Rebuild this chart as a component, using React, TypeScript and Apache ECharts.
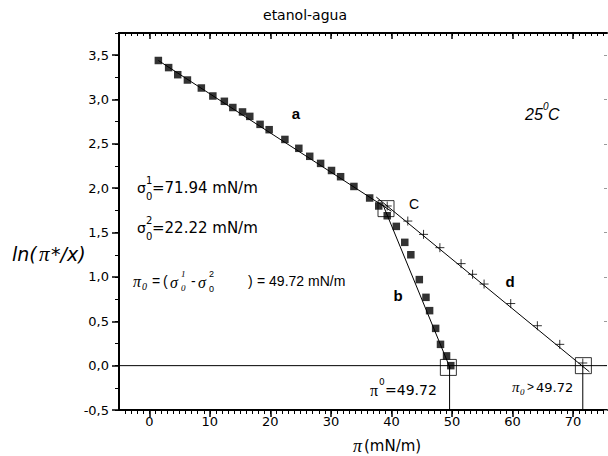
import React, { useEffect, useRef } from "react";
import * as echarts from "echarts";

// ---- data ----
const squaresA: number[][] = [
  [1.5, 3.44], [3.2, 3.36], [4.7, 3.28], [6.3, 3.22], [8.6, 3.13], [10.5, 3.04],
  [12.4, 2.98], [13.8, 2.91], [15.4, 2.86], [16.6, 2.81], [18.3, 2.72], [19.8, 2.66],
  [22.4, 2.55], [24.7, 2.45], [26.5, 2.36], [28.3, 2.28], [30.1, 2.2], [31.6, 2.13],
  [33.8, 2.02], [36.4, 1.89], [37.9, 1.8],
];
const squaresB: number[][] = [
  [39.3, 1.69], [40.8, 1.57], [42.2, 1.39], [43.2, 1.25], [44.6, 0.97], [45.7, 0.77],
  [46.3, 0.62], [47.3, 0.42], [48.1, 0.24], [49.1, 0.11], [49.8, 0.0],
];
const crossesD: number[][] = [
  [39.3, 1.8], [42.7, 1.63], [45.3, 1.48], [48.0, 1.33], [51.5, 1.15], [53.4, 1.03],
  [55.3, 0.92], [59.7, 0.7], [64.1, 0.45], [67.8, 0.24], [71.6, 0.03],
];
const openSquares: number[][] = [[39.1, 1.77], [49.4, -0.02], [71.7, 0.0]];
const fitA: number[][] = [[1.5, 3.44], [40.0, 1.74]];
const fitB: number[][] = [[38.5, 1.83], [49.7, -0.03]];
const fitD: number[][] = [[37.5, 1.9], [72.7, -0.07]];
const zeroLine: number[][] = [[-5, 0], [75.6, 0]];
const dropB: number[][] = [[49.6, 0], [49.6, -0.5]];
const dropD: number[][] = [[71.6, 0], [71.6, -0.5]];

const xMajorTicks = [0, 10, 20, 30, 40, 50, 60, 70];
const yMajorTicks = [-0.5, 0, 0.5, 1, 1.5, 2, 2.5, 3, 3.5];
const X_MIN = -5;
const X_MAX = 75.6;
const Y_MIN = -0.5;
const Y_MAX = 3.75;

const xMinorTicks: number[] = [];
for (let v = -4; v <= 75; v++) xMinorTicks.push(v);
const yMinorTicks: number[] = [];
for (let v = -0.5; v <= 3.76; v += 0.25) yMinorTicks.push(Math.round(v * 100) / 100);

const SANS = "DejaVu Sans";
const ARIAL = "Liberation Sans";
const SERIF = "Liberation Serif";

function txt(text: string, x: number, y: number, o: any = {}) {
  return {
    type: "text",
    x,
    y,
    silent: true,
    z: 10,
    style: {
      text,
      fill: "#000",
      fontFamily: o.family || SANS,
      fontSize: o.size || 14,
      fontStyle: o.italic ? "italic" : "normal",
      fontWeight: o.bold ? "bold" : "normal",
      align: o.align || "left",
      verticalAlign: "middle",
    },
  };
}

export default function App() {
  const ref = useRef<HTMLDivElement>(null);
  useEffect(() => {
    document.body.style.margin = "0";
    const chart = echarts.init(ref.current!, undefined, { renderer: "svg" });
    const lineSeries = (data: number[][]) => ({
      type: "line",
      data,
      symbol: "none",
      silent: true,
      lineStyle: { color: "#000", width: 1 },
      z: 2,
    });
    const xBase = { type: "value", min: X_MIN, max: X_MAX, splitLine: { show: false } };
    const yBase = { type: "value", min: Y_MIN, max: Y_MAX, splitLine: { show: false } };
    const line = (show: boolean) => ({ show, onZero: false, lineStyle: { color: "#000", width: 2 } });
    chart.setOption({
      animation: false,
      grid: { left: 119, right: 1, top: 33, bottom: 46 },
      xAxis: [
        {
          ...xBase,
          position: "bottom",
          axisLine: line(true),
          axisTick: { show: true, customValues: xMajorTicks, length: 7, lineStyle: { color: "#000", width: 1.5 } },
          axisLabel: { customValues: xMajorTicks, margin: 5, color: "#000", fontFamily: SANS, fontSize: 13 },
        },
        {
          ...xBase,
          position: "bottom",
          axisLine: line(false),
          axisTick: { show: true, customValues: xMinorTicks, length: 4, lineStyle: { color: "#000", width: 1 } },
          axisLabel: { show: false },
        },
        {
          ...xBase,
          position: "top",
          axisLine: line(true),
          axisTick: { show: true, inside: true, customValues: xMajorTicks, length: 6, lineStyle: { color: "#000", width: 1.5 } },
          axisLabel: { show: false },
        },
        {
          ...xBase,
          position: "top",
          axisLine: line(false),
          axisTick: { show: true, inside: true, customValues: xMinorTicks, length: 3, lineStyle: { color: "#000", width: 1 } },
          axisLabel: { show: false },
        },
      ],
      yAxis: [
        {
          ...yBase,
          position: "left",
          axisLine: line(true),
          axisTick: { show: true, customValues: yMajorTicks, length: 7, lineStyle: { color: "#000", width: 1.5 } },
          axisLabel: {
            customValues: yMajorTicks,
            margin: 10,
            color: "#000",
            fontFamily: SANS,
            fontSize: 13,
            formatter: (v: number) => v.toFixed(1).replace(".", ","),
          },
        },
        {
          ...yBase,
          position: "left",
          axisLine: line(false),
          axisTick: { show: true, customValues: yMinorTicks, length: 4, lineStyle: { color: "#000", width: 1 } },
          axisLabel: { show: false },
        },
        {
          ...yBase,
          position: "right",
          axisLine: line(false),
          axisTick: { show: true, inside: true, customValues: yMajorTicks, length: 3, lineStyle: { color: "#999", width: 1 } },
          axisLabel: { show: false },
        },
      ],
      series: [
        lineSeries(zeroLine),
        lineSeries(dropB),
        lineSeries(dropD),
        lineSeries(fitA),
        lineSeries(fitB),
        lineSeries(fitD),
        {
          type: "scatter",
          data: squaresA,
          symbol: "rect",
          symbolSize: 7.5,
          itemStyle: { color: "#000" },
          z: 3,
        },
        {
          type: "scatter",
          data: squaresB,
          symbol: "rect",
          symbolSize: 7.5,
          itemStyle: { color: "#000" },
          z: 3,
        },
        {
          type: "scatter",
          data: crossesD,
          symbol: "path://M5,0L5,10M0,5L10,5",
          symbolSize: 9,
          itemStyle: { color: "none", borderColor: "#000", borderWidth: 1 },
          z: 3,
        },
        {
          type: "scatter",
          data: openSquares,
          symbol: "rect",
          symbolSize: 16,
          itemStyle: { color: "none", borderColor: "#000", borderWidth: 1 },
          z: 4,
        },
      ],
      graphic: [
        txt("etanol-agua", 305, 15, { size: 14, align: "center" }),
        // y axis name
        txt("ln(", 12, 254, { size: 19, italic: true }),
        txt("π", 39, 254, { size: 21, italic: true, family: SERIF }),
        txt("*/x)", 51, 254, { size: 19, italic: true }),
        // x axis name
        txt("π", 353, 446, { size: 18, italic: true, family: SERIF }),
        txt("(mN/m)", 364, 446, { size: 15 }),
        // sigma lines
        txt("σ", 137, 188, { size: 14 }),
        txt("1", 146, 180, { size: 10 }),
        txt("0", 146, 196, { size: 10 }),
        txt("=71.94 mN/m", 152, 188, { size: 15 }),
        txt("σ", 137, 228, { size: 14 }),
        txt("2", 146, 220, { size: 10 }),
        txt("0", 146, 236, { size: 10 }),
        txt("=22.22 mN/m", 152, 228, { size: 15 }),
        // formula line
        txt("π", 133, 281, { size: 16, italic: true, family: SERIF }),
        txt("0", 142, 286, { size: 10, italic: true, family: SERIF }),
        txt("=", 152, 281, { size: 14, family: ARIAL }),
        txt("(", 163, 281, { size: 14, family: ARIAL }),
        txt("σ", 170, 282, { size: 16, italic: true, family: SERIF }),
        txt("1", 181, 274, { size: 9, italic: true, family: SERIF }),
        txt("0", 181, 288, { size: 9, italic: true, family: SERIF }),
        txt("-", 191, 281, { size: 14, family: ARIAL }),
        txt("σ", 198, 282, { size: 16, italic: true, family: SERIF }),
        txt("2", 209, 274, { size: 9, family: ARIAL }),
        txt("0", 209, 289, { size: 9, family: ARIAL }),
        txt(")", 248, 281, { size: 14, family: ARIAL }),
        txt("= 49.72 mN/m", 257, 281, { size: 14, family: ARIAL }),
        // branch labels
        txt("a", 296, 113, { size: 15, bold: true, family: ARIAL, align: "center" }),
        txt("b", 398, 295, { size: 15, bold: true, family: ARIAL, align: "center" }),
        txt("C", 414, 204, { size: 14, family: ARIAL, align: "center" }),
        txt("d", 510, 281, { size: 15, bold: true, family: ARIAL, align: "center" }),
        // temperature
        txt("25", 525, 114, { size: 16, italic: true, family: ARIAL }),
        txt("0", 543, 106, { size: 10, italic: true, family: ARIAL }),
        txt("C", 548, 114, { size: 16, italic: true, family: ARIAL }),
        // intercepts
        txt("π", 370, 390, { size: 16, family: SERIF }),
        txt("0", 379, 382, { size: 9 }),
        txt("=49.72", 385, 390, { size: 14 }),
        txt("π", 512, 387, { size: 15, italic: true, family: SERIF }),
        txt("0", 520, 392, { size: 9, italic: true, family: SERIF }),
        txt(">", 527, 387, { size: 12, family: ARIAL }),
        txt("49.72", 536, 387, { size: 13 }),
      ],
    });
    return () => chart.dispose();
  }, []);
  return <div ref={ref} style={{ width: 608, height: 456 }} />;
}
